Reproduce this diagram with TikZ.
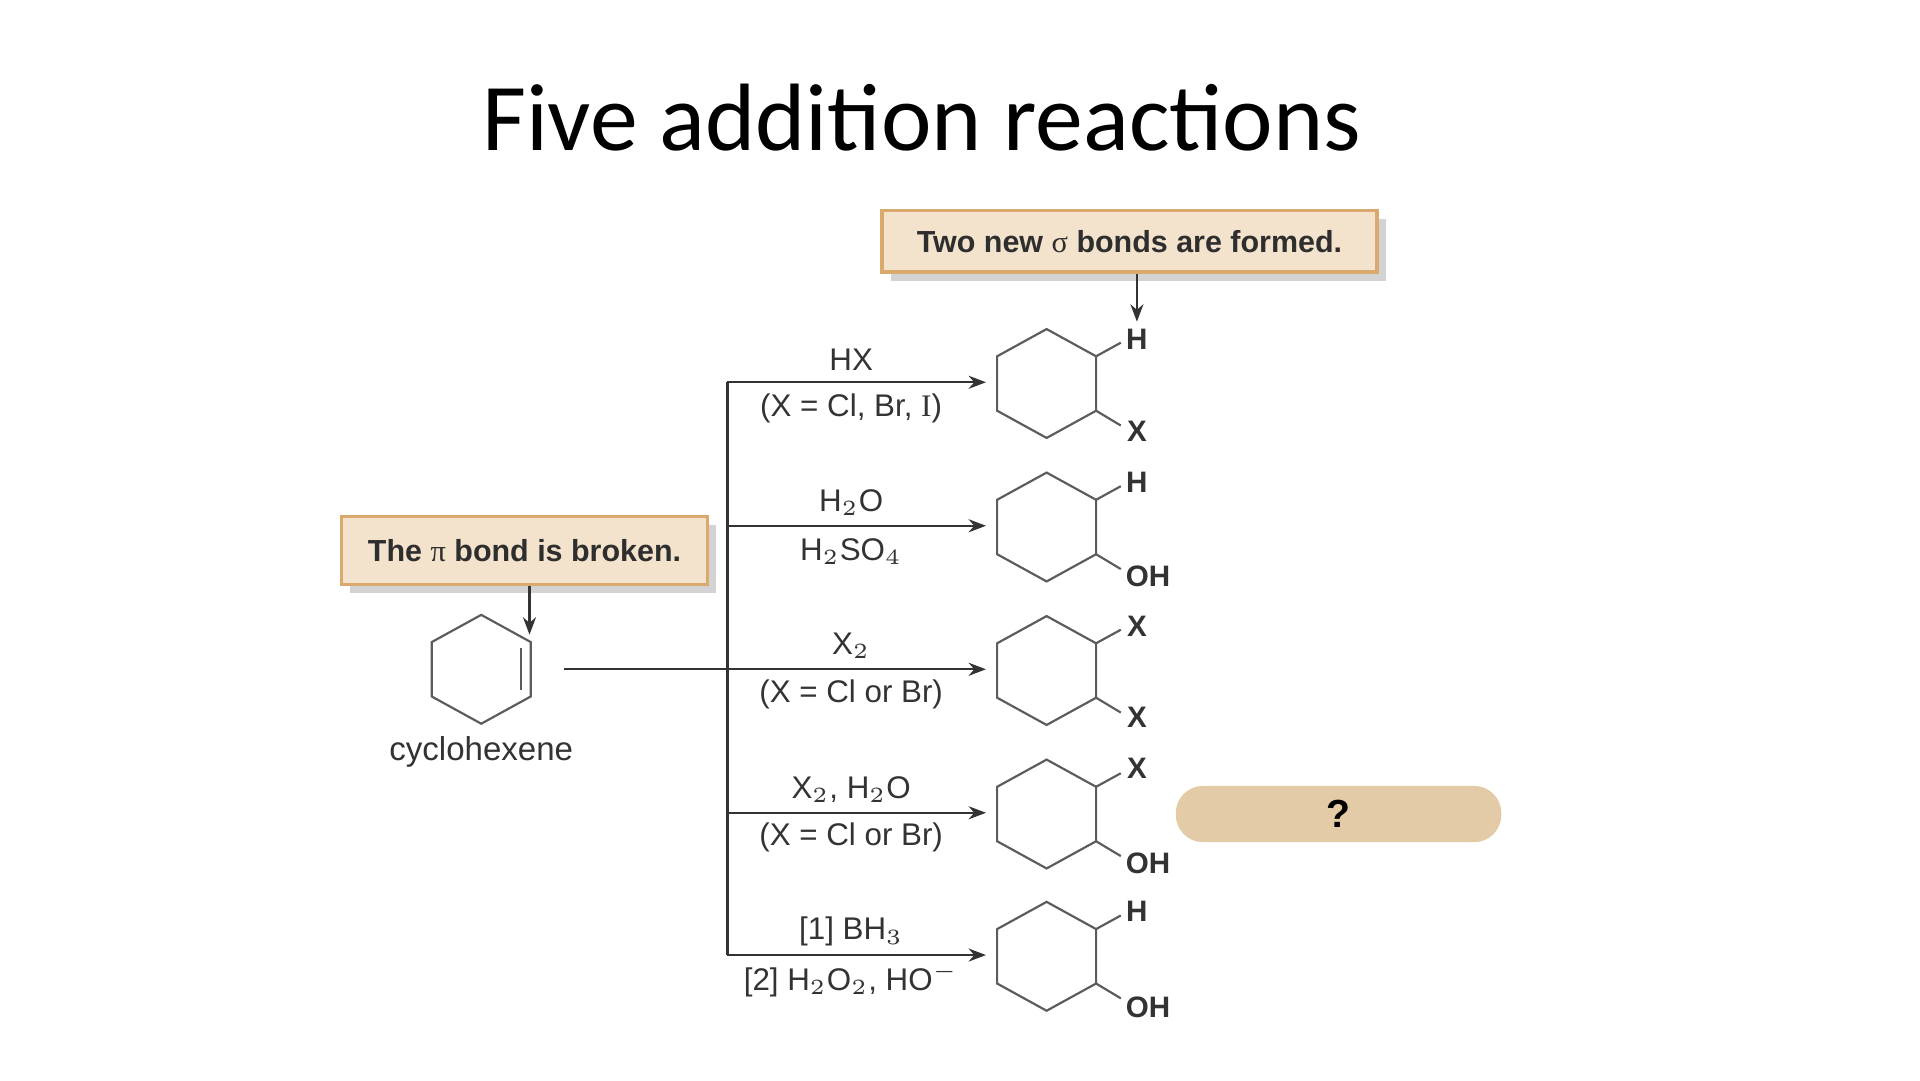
\documentclass[tikz,border=0pt]{standalone}
\usepackage{fontspec}
\setmainfont{Liberation Sans}
\newfontfamily\titlefont{Carlito}
\newfontfamily\serifpi{Liberation Serif}
\usetikzlibrary{arrows.meta,shadows}
\definecolor{boxfill}{HTML}{F3E3CC}
\definecolor{boxline}{HTML}{D9A96E}
\definecolor{pill}{HTML}{E4CBA8}
\definecolor{ink}{HTML}{333333}
\tikzset{
  bond/.style={draw=ink!80, line width=0.5pt},
  rxn/.style={draw=ink, line width=0.5pt, -{Stealth[length=4pt,width=3pt]}},
  lab/.style={font=\fontsize{7.2}{8}\selectfont, text=ink, inner sep=0pt},
  atom/.style={font=\bfseries\fontsize{6.8}{8}\selectfont, text=ink, inner sep=0pt},
  note/.style={draw=boxline, line width=0.8pt, fill=boxfill, font=\bfseries\fontsize{7}{8}\selectfont, text=ink!90!black,
    drop shadow={shadow xshift=2pt, shadow yshift=-2pt, opacity=0.35}, inner sep=0pt}
}
\newcommand{\hexring}[2]{%
  \draw[bond] (#1,#2-44) -- (#1+40,#2-22) -- (#1+40,#2+22) -- (#1,#2+44) -- (#1-40,#2+22) -- (#1-40,#2-22) -- cycle;}
\begin{document}
\begin{tikzpicture}[x=0.01cm,y=-0.01cm]
\useasboundingbox (0,0) rectangle (1552,873);
\node[font=\titlefont\fontsize{22}{26}\selectfont] (title) at (745,95) {Five addition reactions};
% boxes
\node[note, minimum width=296\pgflinewidth*0+2.96cm, minimum height=0.55cm] (broken) at (424,445) {The {\serifpi\mdseries π} bond is broken.};
\node[note, minimum width=4.0cm, minimum height=0.5cm] (formed) at (913,195) {Two new {\serifpi\mdseries σ} bonds are formed.};
% cyclohexene
\hexring{389}{541}
\draw[bond] (421,524) -- (421,558);
\coordinate (cyc) at (428,513);
\node[lab, font=\fontsize{7.6}{9}\selectfont] (cyclab) at (389,608) {cyclohexene};
\draw[rxn] (broken.south -| cyc) -- (cyc);
% trunk
\coordinate (start) at (456,541);
\coordinate (top) at (588,309);
\coordinate (bot) at (588,772);
\draw[bond, draw=ink] (top) -- (bot);
\foreach \i/\y in {1/309,2/425,3/541,4/657,5/772}{
  \coordinate (b\i) at (588,\y);
  \coordinate (e\i) at (797,\y);
  \hexring{846}{\y+1}
  \coordinate (up\i) at (906,\y-32);
  \coordinate (dn\i) at (906,\y+35);
  \draw[bond] (886,\y-21) -- (up\i);
  \draw[bond] (886,\y+23) -- (dn\i);
}
\foreach \i in {1,2,4,5}{\draw[rxn] (b\i) -- (e\i);}
\draw[rxn] (start) -- (e3);
\coordinate (h1) at (919,260);
\draw[rxn] (formed.south -| h1) -- (h1);
% reagents
\node[lab] (r1a) at (688,291) {HX};
\node[lab] (r1b) at (688,330) {(X = Cl, Br, {\serifpi I})};
\node[lab] (r2a) at (688,406) {H$_2$O};
\node[lab] (r2b) at (688,446) {H$_2$SO$_4$};
\node[lab] (r3a) at (688,522) {X$_2$};
\node[lab] (r3b) at (688,561) {(X = Cl or Br)};
\node[lab] (r4a) at (688,638) {X$_2$, H$_2$O};
\node[lab] (r4b) at (688,677) {(X = Cl or Br)};
\node[lab] (r5a) at (688,753) {[1] BH$_3$};
\node[lab] (r5b) at (688,792) {[2] H$_2$O$_2$, HO$^{-}$};
% atoms
\node[atom] (a1u) at (919,274) {H};
\node[atom] (a1d) at (919,349) {X};
\node[atom] (a2u) at (919,390) {H};
\node[atom] (a2d) at (928,466) {OH};
\node[atom] (a3u) at (919,506) {X};
\node[atom] (a3d) at (919,580) {X};
\node[atom] (a4u) at (919,621) {X};
\node[atom] (a4d) at (928,698) {OH};
\node[atom] (a5u) at (919,737) {H};
\node[atom] (a5d) at (928,814) {OH};
% pill
\node[fill=pill, rounded corners=0.22cm, minimum width=2.63cm, minimum height=0.45cm, font=\bfseries\fontsize{9}{10}\selectfont] (q) at (1082,658) {?};
\end{tikzpicture}
\end{document}
